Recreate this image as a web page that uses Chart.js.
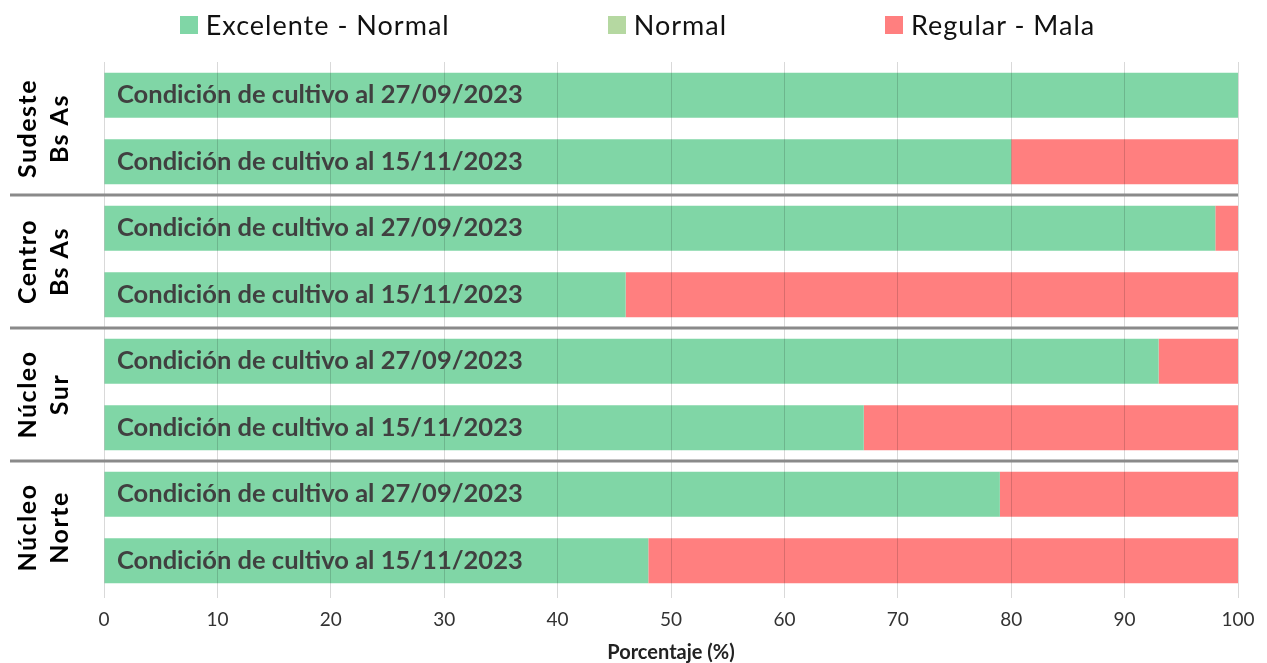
<!DOCTYPE html>
<html>
<head>
<meta charset="utf-8">
<script src="https://cdn.jsdelivr.net/npm/chart.js@4"></script>
<style>
  html, body { margin: 0; padding: 0; background: #fff; }
  #wrap { position: relative; width: 1267px; height: 663px; }
  #legend { position: absolute; left: 0; top: 8px; width: 1259px; padding-left: 8px; display: flex; justify-content: center; gap: 158px; font-family: Lato, sans-serif; font-size: 27px; letter-spacing: 1px; color: #111; }
  #legend .item { display: flex; align-items: center; }
  #legend .box { width: 18px; height: 18px; margin-right: 8px; }
</style>
</head>
<body>
<div id="wrap">
  <canvas id="chart" width="1267" height="663"></canvas>
  <div id="legend"></div>
</div>
<script>
const categories = [
  'Condición de cultivo al 27/09/2023',
  'Condición de cultivo al 15/11/2023',
  'Condición de cultivo al 27/09/2023',
  'Condición de cultivo al 15/11/2023',
  'Condición de cultivo al 27/09/2023',
  'Condición de cultivo al 15/11/2023',
  'Condición de cultivo al 27/09/2023',
  'Condición de cultivo al 15/11/2023'
];
const groups = [['Sudeste', 'Bs As'], ['Centro', 'Bs As'], ['Núcleo', 'Sur'], ['Núcleo', 'Norte']];
const excelenteNormal = [100, 80, 98, 46, 93, 67, 79, 48];
const normal = [0, 0, 0, 0, 0, 0, 0, 0];
const regularMala = [0, 20, 2, 54, 7, 33, 21, 52];
const xTicks = [0, 10, 20, 30, 40, 50, 60, 70, 80, 90, 100];

// group names on the left and the separators between groups
const groupPlugin = {
  id: 'groups',
  afterDraw(chart) {
    const ctx = chart.ctx;
    const y = chart.scales.y;
    const area = chart.chartArea;
    ctx.save();
    ctx.strokeStyle = '#8a8a8a';
    ctx.lineWidth = 3;
    for (let g = 1; g < groups.length; g++) {
      const yy = (y.getPixelForValue(g * 2 - 1) + y.getPixelForValue(g * 2)) / 2;
      ctx.beginPath();
      ctx.moveTo(10, yy);
      ctx.lineTo(area.right, yy);
      ctx.stroke();
    }
    ctx.fillStyle = '#000';
    ctx.font = 'bold 25px Lato, sans-serif';
    ctx.letterSpacing = '1.5px';
    ctx.textAlign = 'center';
    ctx.textBaseline = 'middle';
    groups.forEach((lines, g) => {
      const cy = (y.getPixelForValue(g * 2) + y.getPixelForValue(g * 2 + 1)) / 2;
      ctx.save();
      ctx.translate(44, cy);
      ctx.rotate(-Math.PI / 2);
      ctx.fillText(lines[0], 0, -16);
      ctx.fillText(lines[1], 0, 16);
      ctx.restore();
    });
    ctx.restore();
  }
};

const chart = new Chart(document.getElementById('chart'), {
  type: 'bar',
  data: {
    labels: categories,
    datasets: [{
      label: 'Excelente - Normal',
      data: excelenteNormal,
      backgroundColor: '#80d6a6'
    }, {
      label: 'Normal',
      data: normal,
      backgroundColor: '#b5d8a1'
    }, {
      label: 'Regular - Mala',
      data: regularMala,
      backgroundColor: '#ff7f7f'
    }]
  },
  options: {
    indexAxis: 'y',
    responsive: false,
    animation: false,
    barPercentage: 0.68,
    categoryPercentage: 1,
    layout: { padding: { top: 62, left: 104, right: 29, bottom: 0 } },
    plugins: {
      legend: { display: false },
      tooltip: { enabled: false }
    },
    scales: {
      x: {
        stacked: true,
        min: 0,
        max: 100,
        afterBuildTicks: (scale) => { scale.ticks = xTicks.map(v => ({ value: v })); },
        afterFit: (scale) => { scale.height = 69; },
        grid: { color: 'rgba(0,0,0,0.15)', tickLength: 4, z: 1 },
        border: { display: false },
        ticks: { color: '#333', font: { family: 'Lato', size: 19, lineHeight: 1.2 }, padding: 10.6 },
        title: { display: true, text: 'Porcentaje (%)', color: '#222', font: { family: 'Lato', size: 20, weight: 'bold', lineHeight: 1.0 }, padding: { top: 0, bottom: 0 } }
      },
      y: {
        stacked: true,
        afterFit: (scale) => { scale.width = 0; },
        grid: { display: false },
        border: { display: false },
        ticks: { mirror: true, z: 1, padding: 13, color: '#404040', font: { family: 'Lato', size: 25.5, weight: 'bold' } }
      }
    }
  },
  plugins: [groupPlugin]
});

// legend built from the datasets
const legend = document.getElementById('legend');
chart.data.datasets.forEach(ds => {
  const item = document.createElement('div');
  item.className = 'item';
  const box = document.createElement('span');
  box.className = 'box';
  box.style.background = ds.backgroundColor;
  const txt = document.createElement('span');
  txt.textContent = ds.label;
  item.appendChild(box);
  item.appendChild(txt);
  legend.appendChild(item);
});
</script>
</body>
</html>
